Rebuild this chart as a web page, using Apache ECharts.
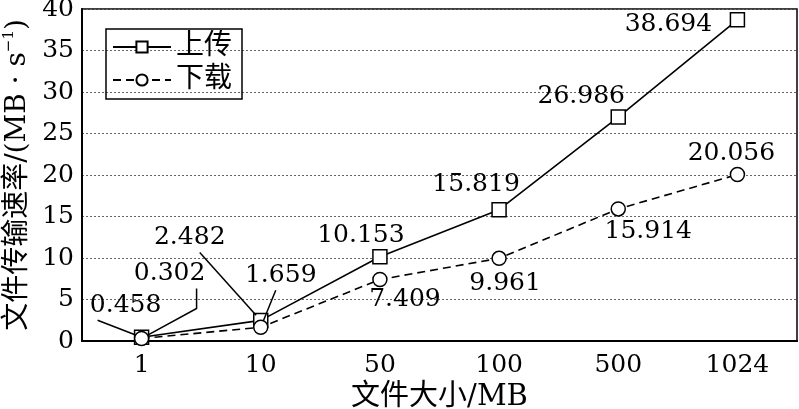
<!DOCTYPE html>
<html>
<head>
<meta charset="utf-8">
<script src="https://cdn.jsdelivr.net/npm/echarts@6/dist/echarts.min.js"></script>
<style>html,body{margin:0;background:#fff}#c{width:799px;height:409px}</style>
</head>
<body>
<div id="c"></div>
<script>
// 数据
const sizes = ["1", "10", "50", "100", "500", "1024"];
const upload = [0.458, 2.482, 10.153, 15.819, 26.986, 38.694];
const download = [0.302, 1.659, 7.409, 9.961, 15.914, 20.056];
const yTicks = { min: 0, max: 40, interval: 5 };

// 标签中心相对数据点的偏移(像素,纯样式)
const labelOffsets = [
  [[-16, -32], [-71, -83], [-19, -21], [-23, -25], [-37, -21], [-69, 5]],
  [[28, -65], [20, -52], [25, 20], [6, 25], [30, 23], [-6, -21]]
];
// 引线:相对数据点的起点/拐点(像素),最后一段连到数据点边缘
const leaders = [
  [[[-44, -17]], [[-61, -68]], null, null, null, null],
  [[[55, -50], [55, -30]], [[15, -37]], null, null, null, null]
];

const FONT = "'DejaVu Serif', 'Noto Sans CJK SC', serif";
const SYM = 14;

function layout(p) {
  const cx = p.rect.x + p.rect.width / 2;
  const cy = p.rect.y + p.rect.height / 2;
  const [dx, dy] = labelOffsets[p.seriesIndex][p.dataIndex];
  return { x: cx + dx, y: cy + dy, align: "center", verticalAlign: "middle" };
}

const chart = echarts.init(document.getElementById("c"), null, { renderer: "canvas" });
chart.setOption({
  animation: false,
  grid: {
    left: 82, right: 2, top: 9, bottom: 68,
    outerBoundsMode: "none", containLabel: false,
    show: true, borderColor: "#000", borderWidth: 1.5
  },
  legend: {
    left: 106, top: 29,
    orient: "vertical",
    borderColor: "#000", borderWidth: 1.5,
    padding: [4, 10, 5, 6],
    itemWidth: 58, itemHeight: 14, itemGap: 5,
    textStyle: { fontFamily: FONT, fontSize: 28, color: "#000" },
    data: ["上传", "下载"]
  },
  xAxis: {
    type: "category",
    data: sizes,
    name: "文件大小/MB",
    nameLocation: "middle",
    nameGap: 35,
    nameTextStyle: { fontFamily: FONT, fontSize: 29, color: "#000" },
    axisLine: { lineStyle: { color: "#000", width: 2 } },
    axisTick: { inside: true, length: 6, lineStyle: { color: "#000", width: 1.5 } },
    axisLabel: { fontFamily: FONT, fontSize: 25, color: "#000", margin: 12 }
  },
  yAxis: {
    type: "value",
    min: yTicks.min, max: yTicks.max, interval: yTicks.interval,
    name: "{a|文件传输速率/(MB · s}{s|−1}{a|)}",
    nameLocation: "middle",
    nameGap: 48,
    nameTextStyle: {
      rich: {
        a: { fontFamily: FONT, fontSize: 28, color: "#000", lineHeight: 32 },
        s: { fontFamily: FONT, fontSize: 15, color: "#000", verticalAlign: "top", lineHeight: 16 }
      }
    },
    axisLine: { show: true, lineStyle: { color: "#000", width: 2 } },
    axisTick: { show: false },
    axisLabel: { fontFamily: FONT, fontSize: 25, color: "#000", margin: 8 },
    splitLine: { lineStyle: { color: "#666", type: [2, 2], width: 1 } }
  },
  series: [
    {
      name: "上传",
      type: "line",
      data: upload,
      symbol: "rect",
      symbolSize: SYM,
      itemStyle: { color: "#fff", borderColor: "#000", borderWidth: 1.5 },
      lineStyle: { color: "#000", width: 1.6 },
      label: { show: true, fontFamily: FONT, fontSize: 25, color: "#000" },
      labelLayout: layout,
      z: 3
    },
    {
      name: "下载",
      type: "line",
      data: download,
      symbol: "circle",
      symbolSize: SYM,
      itemStyle: { color: "#fff", borderColor: "#000", borderWidth: 1.5 },
      lineStyle: { color: "#000", width: 1.6, type: [8, 5] },
      label: { show: true, fontFamily: FONT, fontSize: 25, color: "#000" },
      labelLayout: layout,
      z: 4
    }
  ]
});

// 引线:数据点像素位置由坐标轴换算
const seriesValues = [upload, download];
const lines = [];
seriesValues.forEach((vals, s) => {
  vals.forEach((v, i) => {
    const ld = leaders[s][i];
    if (!ld) return;
    const [cx, cy] = chart.convertToPixel({ gridIndex: 0 }, [i, v]);
    const pts = ld.map(o => [cx + o[0], cy + o[1]]);
    const last = pts[pts.length - 1];
    const vx = cx - last[0], vy = cy - last[1];
    const len = Math.hypot(vx, vy);
    const r = SYM / 2;
    pts.push([cx - vx / len * r, cy - vy / len * r]);
    lines.push({
      type: "polyline",
      shape: { points: pts },
      style: { stroke: "#000", lineWidth: 1.5, fill: null },
      z: 10
    });
  });
});
chart.setOption({ graphic: lines });
</script>
</body>
</html>
